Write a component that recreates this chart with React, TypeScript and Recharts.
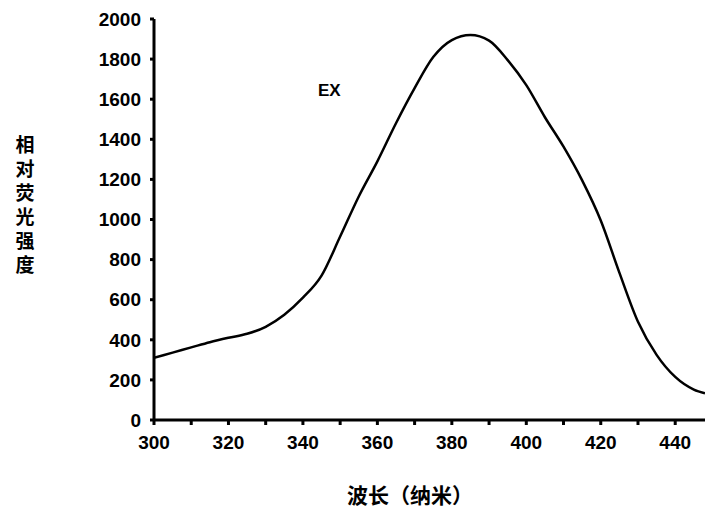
import React from 'react';
import {
  LineChart,
  Line,
  XAxis,
  YAxis,
  Label,
} from 'recharts';

// excitation spectrum
const wavelengths = [
  300, 305, 310, 315, 320, 325, 330, 335, 340, 345, 350, 355, 360, 365, 370,
  375, 380, 385, 390, 395, 400, 405, 410, 415, 420, 425, 430, 435, 440, 445, 448,
];
const intensity = [
  310, 336, 362, 388, 410, 430, 465, 525, 610, 720, 915, 1115, 1290, 1480, 1655,
  1810, 1895, 1920, 1892, 1795, 1670, 1510, 1363, 1195, 995, 735, 490, 325, 215, 152, 133,
];
const xTicks = [300, 310, 320, 330, 340, 350, 360, 370, 380, 390, 400, 410, 420, 430, 440];
const yTicks = [0, 200, 400, 600, 800, 1000, 1200, 1400, 1600, 1800, 2000];
const yTitle = '相对荧光强度';
const xTitle = '波长（纳米）';
const seriesName = 'EX';

const data = wavelengths.map((w, i) => ({ w, v: intensity[i] }));

const numFont = '"Liberation Sans", Arial, sans-serif';
const cjkFont = '"Noto Sans CJK SC", sans-serif';

// vertical title, upright characters
const YTitle = () => (
  <text
    x={25}
    y={135}
    fontFamily={cjkFont}
    fontWeight={700}
    fontSize={19}
    fill="#000"
    style={{ writingMode: 'vertical-rl', textOrientation: 'upright', letterSpacing: 5 }}
  >
    {yTitle}
  </text>
);

const XTitle = () => (
  <text x={410} y={503} textAnchor="middle" fontFamily={cjkFont} fontWeight={700} fontSize={21} fill="#000">
    {xTitle}
  </text>
);

export default function App() {
  return (
    <div style={{ position: 'absolute', left: 0, top: 0, width: 705, height: 515, background: '#fff' }}>
      <LineChart
        width={705}
        height={515}
        data={data}
        margin={{ top: 19, right: 0, left: 0, bottom: 0 }}
      >
        <XAxis
          dataKey="w"
          type="number"
          domain={[300, 448]}
          ticks={xTicks}
          tickFormatter={(t: number) => (t % 20 === 0 ? String(t) : '')}
          height={95}
          stroke="#000"
          strokeWidth={3}
          tickSize={5}
          tickMargin={11}
          tick={{ fill: '#000', fontSize: 19, fontWeight: 700, fontFamily: numFont }}
          allowDataOverflow
        >
          <Label content={<XTitle />} />
        </XAxis>
        <YAxis
          type="number"
          domain={[0, 2000]}
          ticks={yTicks}
          width={154}
          stroke="#000"
          strokeWidth={3}
          tickSize={4}
          tickMargin={9}
          tick={{ fill: '#000', fontSize: 19, fontWeight: 700, fontFamily: numFont }}
        >
          <Label content={<YTitle />} />
        </YAxis>
        <Line
          type="monotone"
          dataKey="v"
          stroke="#000"
          strokeWidth={2.5}
          dot={false}
          isAnimationActive={false}
        />
      </LineChart>
      <div
        style={{
          position: 'absolute',
          left: 318,
          top: 81,
          fontFamily: numFont,
          fontSize: 17,
          fontWeight: 700,
          color: '#000',
        }}
      >
        {seriesName}
      </div>
    </div>
  );
}
